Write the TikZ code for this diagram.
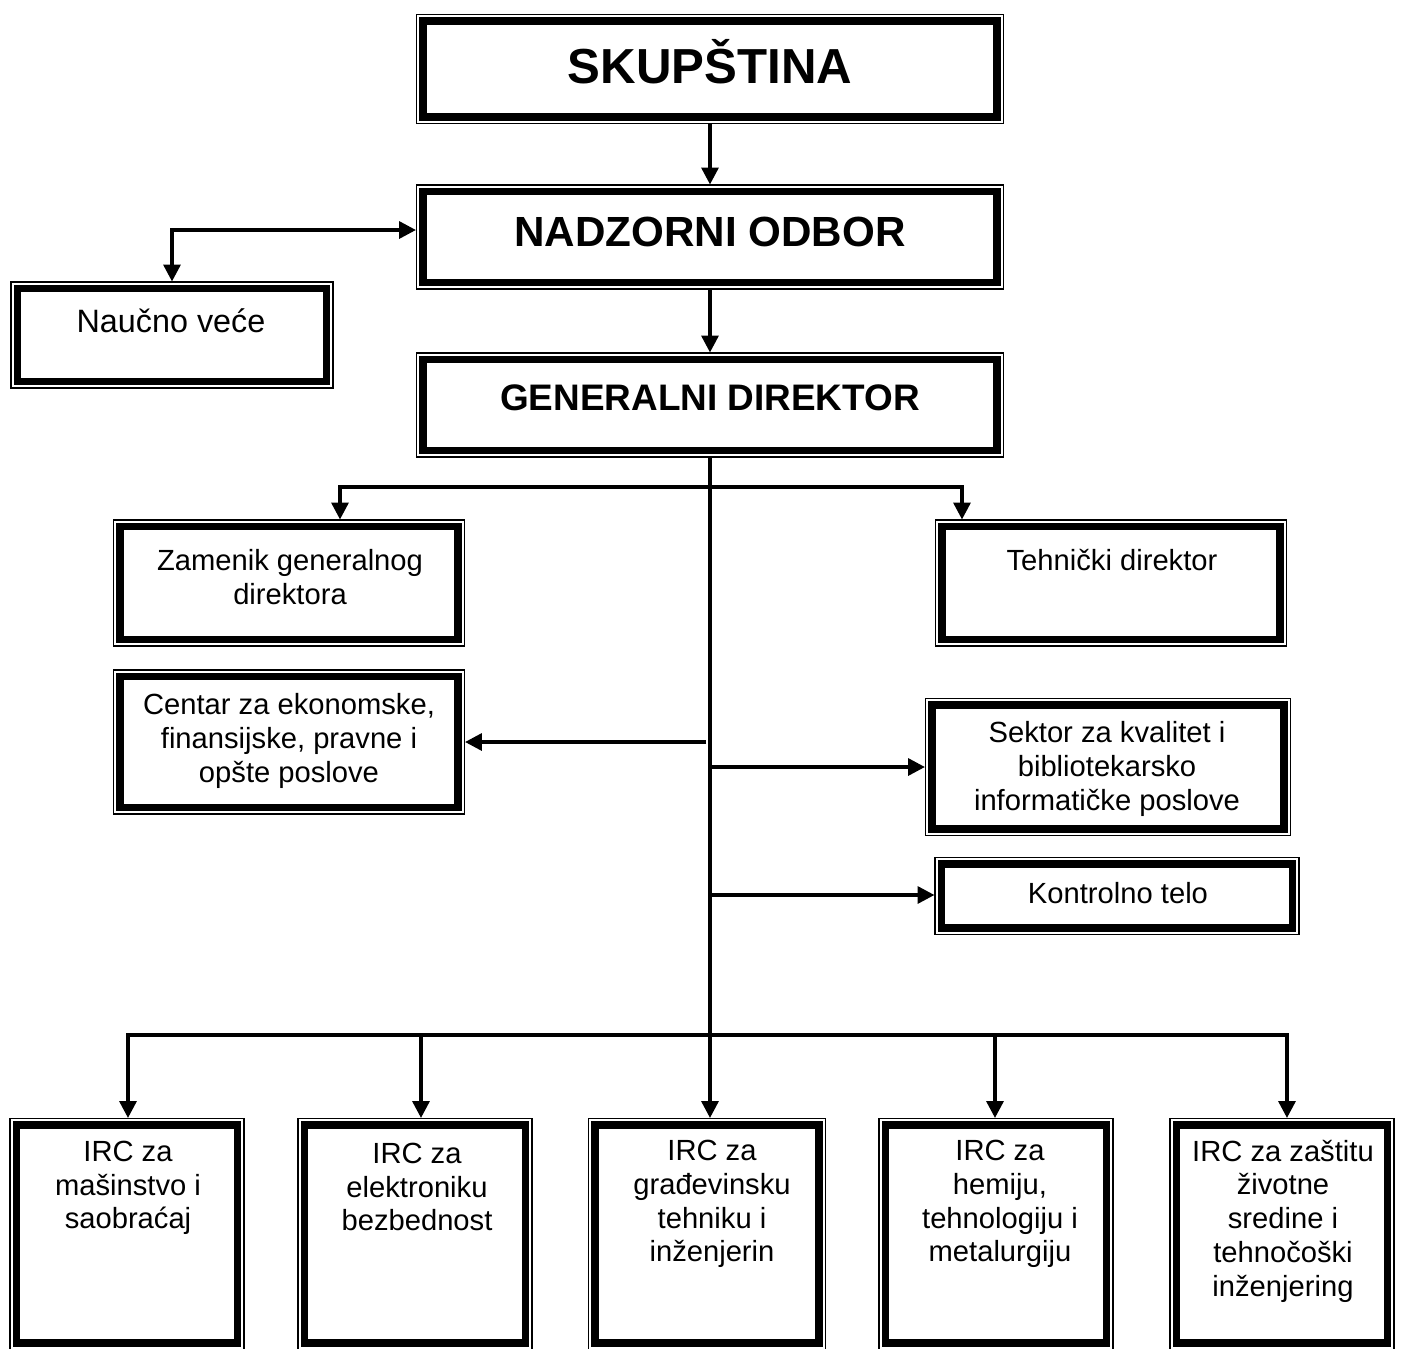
\documentclass[tikz,border=0pt]{standalone}
\usepackage{fontspec}
\setmainfont{Liberation Sans}
\usetikzlibrary{arrows.meta}

\tikzset{box/.style={rectangle,draw,fill=white,line width=2.1pt,inner sep=0pt,outer sep=2pt,
    preaction={draw,line width=4pt},preaction={draw=white,line width=3.3pt}}}
\tikzset{txt/.style={align=center,inner sep=0pt,font=\fontsize{8.3}{9.6}\selectfont}}
\tikzset{hd/.style={inner sep=0pt,anchor=base,font=\bfseries\fontsize{#1}{#1}\selectfont}}
\tikzset{conn/.style={line width=1pt}}
\tikzset{arr/.style={conn,-{Triangle[width=4.8pt,length=4.8pt]}}}
\tikzset{both/.style={conn,{Triangle[width=4.8pt,length=4.8pt]}-{Triangle[width=4.8pt,length=4.8pt]}}}

\begin{document}
\begin{tikzpicture}[x=0.1mm,y=-0.1mm]
\useasboundingbox (0,0) rectangle (1403,1349);
% upper part
\node[box,minimum width=57.4mm,minimum height=9.6mm] (skup) at (710,69) {};
\node[hd=14] (skupT) at (710,83) {SKUPŠTINA};
\node[box,minimum width=57.4mm,minimum height=9.1mm] (nadz) at (710,237) {};
\node[hd=12] (nadzT) at (710,246) {NADZORNI ODBOR};
\node[box,minimum width=30.9mm,minimum height=9.3mm] (nauc) at (172,335) {};
\node[txt,anchor=base,font=\fontsize{9.2}{10}\selectfont] (naucT) at (171,332) {Naučno veće};
\node[box,minimum width=57.4mm,minimum height=9.1mm] (gen) at (710,405) {};
\node[hd=10.5] (genT) at (710,410) {GENERALNI DIREKTOR};

% middle part
\node[box,minimum width=33.8mm,minimum height=11.3mm] (zam) at (289,583) {};
\node[txt] (zamT) at (290,577) {Zamenik generalnog\\direktora};
\node[box,minimum width=33.8mm,minimum height=11.3mm] (teh) at (1111,583) {};
\node[txt,anchor=base] (tehT) at (1112,570) {Tehnički direktor};
\node[box,minimum width=33.8mm,minimum height=13.1mm] (cen) at (289,742) {};
\node[txt] (cenT) at (289,741) {Centar za ekonomske,\\finansijske, pravne i\\opšte poslove};
\node[box,minimum width=35.2mm,minimum height=12.4mm] (sek) at (1108,767) {};
\node[txt] (sekT) at (1107,769) {Sektor za kvalitet i\\bibliotekarsko\\informatičke poslove};
\node[box,minimum width=35.1mm,minimum height=6.4mm] (kon) at (1117,896) {};
\node[txt,anchor=base] (konT) at (1118,903) {Kontrolno telo};

% IRC
\node[box,minimum width=22.1mm,minimum height=21.8mm] (irc1) at (127,1234) {};
\node[txt] (irc1T) at (128,1188) {IRC za\\mašinstvo i\\saobraćaj};
\node[box,minimum width=22.1mm,minimum height=21.8mm] (irc2) at (415,1234) {};
\node[txt] (irc2T) at (417,1187) {IRC za\\elektroniku\\bezbednost};
\node[box,minimum width=22.4mm,minimum height=21.8mm] (irc3) at (707,1234) {};
\node[txt] (irc3T) at (712,1204) {IRC za\\građevinsku\\tehniku i\\inženjerin};
\node[box,minimum width=22.1mm,minimum height=21.8mm] (irc4) at (996,1234) {};
\node[txt] (irc4T) at (1000,1204) {IRC za\\hemiju,\\tehnologiju i\\metalurgiju};
\node[box,minimum width=21.1mm,minimum height=21.8mm] (irc5) at (1282,1234) {};
\node[txt] (irc5T) at (1283,1221) {IRC za zaštitu\\životne\\sredine i\\tehnočoški\\inženjering};

% connectors
\coordinate (naucA) at (172,230);
\coordinate (zamA) at (340,487);
\coordinate (tehA) at (962,487);
\coordinate (cenA) at (706,742);
\coordinate (sekA) at (710,767);
\coordinate (konA) at (710,895);
\coordinate (b1) at (128,1035);
\coordinate (b2) at (421,1035);
\coordinate (b4) at (995,1035);
\coordinate (b5) at (1287,1035);
\draw[arr] (skup.south) -- (nadz.north);
\draw[arr] (nadz.south) -- (gen.north);
\draw[both] (naucA -| nadz.west) -- (naucA) -- (naucA |- nauc.north);
\draw[both] (zamA |- zam.north) -- (zamA) -- (tehA) -- (tehA |- teh.north);
\draw[arr] (gen.south) -- (gen.south |- irc3.north);
\draw[arr] (cenA) -- (cenA -| cen.east);
\draw[arr] (sekA) -- (sekA -| sek.west);
\draw[arr] (konA) -- (konA -| kon.west);
\draw[both] (b1 |- irc1.north) -- (b1) -- (b5) -- (b5 |- irc5.north);
\draw[arr] (b2) -- (b2 |- irc2.north);
\draw[arr] (b4) -- (b4 |- irc4.north);
\end{tikzpicture}
\end{document}
